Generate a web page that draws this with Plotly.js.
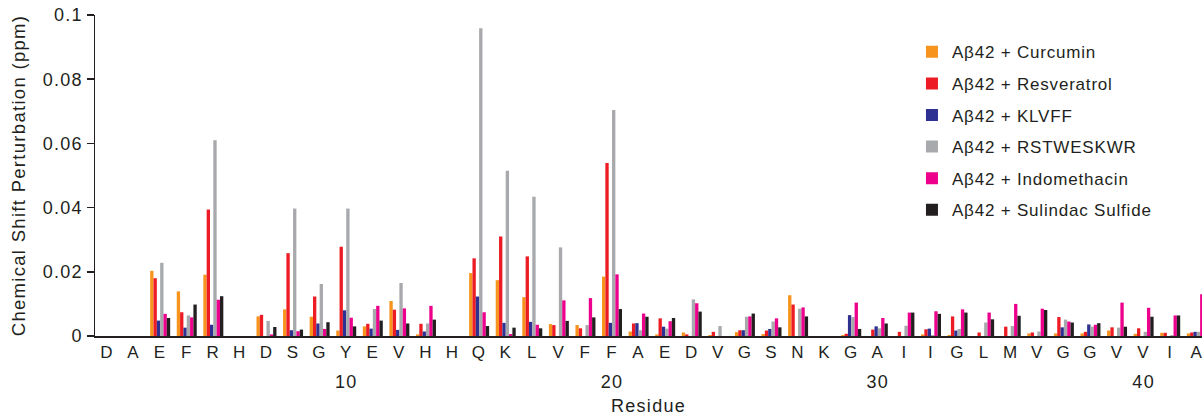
<!DOCTYPE html>
<html>
<head>
<meta charset="utf-8">
<script src="https://cdn.plot.ly/plotly-3.0.1.min.js"></script>
<style>
html, body { margin: 0; padding: 0; background: #fff; }
#chart { width: 1202px; height: 416px; }
svg text { letter-spacing: 1.3px; }
svg text.legendtext { letter-spacing: 0.8px; }
</style>
</head>
<body>
<div id="chart"></div>
<script>
const residues = ['D','A','E','F','R','H','D','S','G','Y','E','V','H','H','Q','K','L','V','F','F','A','E','D','V','G','S','N','K','G','A','I','I','G','L','M','V','G','G','V','V','I','A'];
const positions = residues.map((r, i) => i + 1);
const numberTicks = [10, 20, 30, 40];
const numberLabels = ['10', '20', '30', '40'];
const yTickVals = [0, 0.02, 0.04, 0.06, 0.08, 0.1];
const yTickText = ['0', '0.02', '0.04', '0.06', '0.08', '0.1'];

const curcumin = [0,0,0.0203,0.0139,0.0191,0,0.0061,0.0083,0.006,0.0017,0.003,0.0109,0.0005,0,0.0196,0.0174,0.0121,0.0037,0.0034,0.0185,0.0014,0.0005,0.0011,0.0003,0.0012,0.0006,0.0127,0,0.0003,0,0,0.0005,0.0003,0,0,0.0008,0.0008,0.0008,0.0017,0.0007,0.001,0.0008];
const resveratrol = [0,0,0.018,0.0074,0.0394,0,0.0066,0.0258,0.0123,0.0278,0.0038,0.0082,0.0038,0,0.0242,0.031,0.0248,0.0034,0.0024,0.0539,0.0039,0.0055,0.0005,0.0013,0.0018,0.0017,0.0098,0,0.0007,0.002,0.0013,0.0021,0.0061,0.0011,0.0029,0.0011,0.0059,0.0013,0.0027,0.0024,0.001,0.0011];
const klvff = [0,0,0.0048,0.0026,0.0035,0,0,0.0018,0.0039,0.008,0.0023,0.0019,0.0014,0,0.0123,0.0041,0.0044,0,0,0.0041,0.004,0.0029,0,0,0.0018,0.0022,0,0,0.0065,0.003,0,0.0023,0.0017,0,0,0,0.0027,0.0036,0,0,0,0.0013];
const rstweskwr = [0,0,0.0228,0.0064,0.061,0,0.0047,0.0397,0.0162,0.0397,0.0084,0.0165,0.0039,0,0.0959,0.0515,0.0434,0.0276,0.0034,0.0704,0.0018,0.0023,0.0114,0.0031,0.006,0.0045,0.0085,0,0.0059,0.0024,0.0032,0.0003,0.0022,0.0042,0.0031,0.0014,0.0051,0.0029,0.0026,0.0013,0.0003,0.0013];
const indomethacin = [0,0,0.0069,0.0058,0.0113,0,0.0005,0.0015,0.0022,0.0057,0.0094,0.0086,0.0094,0,0.0074,0.0006,0.0035,0.0111,0.0118,0.0192,0.007,0.0046,0.0102,0,0.0061,0.0055,0.0089,0,0.0104,0.0056,0.0073,0.0077,0.0083,0.0073,0.01,0.0085,0.0045,0.0035,0.0104,0.0088,0.0064,0.013];
const sulindac = [0,0,0.0056,0.0098,0.0124,0,0.0028,0.002,0.0043,0.003,0.0048,0.0039,0.0051,0,0.0031,0.0026,0.0024,0.0047,0.0058,0.0084,0.006,0.0056,0.0076,0,0.007,0.0027,0.0061,0,0.0022,0.0039,0.0073,0.0069,0.0073,0.0052,0.0063,0.0081,0.0042,0.004,0.0029,0.006,0.0064,0.004];

const seriesNames = ['Aβ42 + Curcumin','Aβ42 + Resveratrol','Aβ42 + KLVFF','Aβ42 + RSTWESKWR','Aβ42 + Indomethacin','Aβ42 + Sulindac Sulfide'];
const seriesValues = [curcumin, resveratrol, klvff, rstweskwr, indomethacin, sulindac];
const seriesColors = ['#F7941D','#ED1C24','#2E3192','#A7A9AC','#EC008C','#231F20'];

const FONT = 'Liberation Sans, Arial, Helvetica, sans-serif';
const INK = '#231F20';

const traces = seriesValues.map((vals, i) => ({
  type: 'bar',
  name: seriesNames[i],
  legendgroup: 'g' + i,
  x: positions,
  y: vals,
  marker: { color: seriesColors[i], line: { width: 0 } },
  hoverinfo: 'x+y+name'
}));
traces.push({ type: 'scatter', x: [], y: [], xaxis: 'x2', yaxis: 'y', showlegend: false, hoverinfo: 'skip' });

const xRange = [0.5485, 42.196];

const layout = {
  width: 1202,
  height: 416,
  margin: { l: 95, r: 0, t: 15, b: 80, pad: 0 },
  paper_bgcolor: '#ffffff',
  plot_bgcolor: '#ffffff',
  font: { family: FONT, size: 17, color: INK },
  barmode: 'group',
  bargap: 0.248,
  bargroupgap: 0,
  showlegend: true,
  legend: {
    x: 0.738, xanchor: 'left',
    y: 0.94, yanchor: 'top',
    bgcolor: 'rgba(0,0,0,0)',
    borderwidth: 0,
    traceorder: 'grouped',
    tracegroupgap: 6.5,
    font: { family: FONT, size: 17, color: INK }
  },
  xaxis: {
    range: xRange,
    tickmode: 'array',
    tickvals: positions,
    ticktext: residues,
    ticklabeloverflow: 'allow',
    showline: true,
    linecolor: INK,
    linewidth: 2,
    ticks: '',
    showgrid: false,
    zeroline: false,
    automargin: false,
    tickfont: { family: FONT, size: 17, color: INK },
    title: { text: 'Residue', standoff: 40, font: { family: FONT, size: 18, color: INK } }
  },
  xaxis2: {
    overlaying: 'x',
    anchor: 'y',
    side: 'bottom',
    range: xRange,
    tickmode: 'array',
    tickvals: numberTicks,
    ticktext: numberLabels,
    ticklabeloverflow: 'allow',
    showline: false,
    ticks: '',
    showgrid: false,
    zeroline: false,
    automargin: false,
    ticklabelstandoff: 33,
    tickfont: { family: FONT, size: 18, color: INK }
  },
  yaxis: {
    range: [0, 0.1],
    tickmode: 'array',
    tickvals: yTickVals,
    ticktext: yTickText,
    showline: true,
    linecolor: INK,
    linewidth: 1.5,
    ticks: 'outside',
    ticklen: 7,
    tickwidth: 1.5,
    tickcolor: INK,
    showgrid: false,
    zeroline: false,
    automargin: false,
    tickfont: { family: FONT, size: 18, color: INK },
    title: { text: 'Chemical Shift Perturbation (ppm)', standoff: 12, font: { family: FONT, size: 18.5, color: INK } }
  }
};

Plotly.newPlot('chart', traces, layout, { displayModeBar: false, staticPlot: true });
</script>
</body>
</html>
